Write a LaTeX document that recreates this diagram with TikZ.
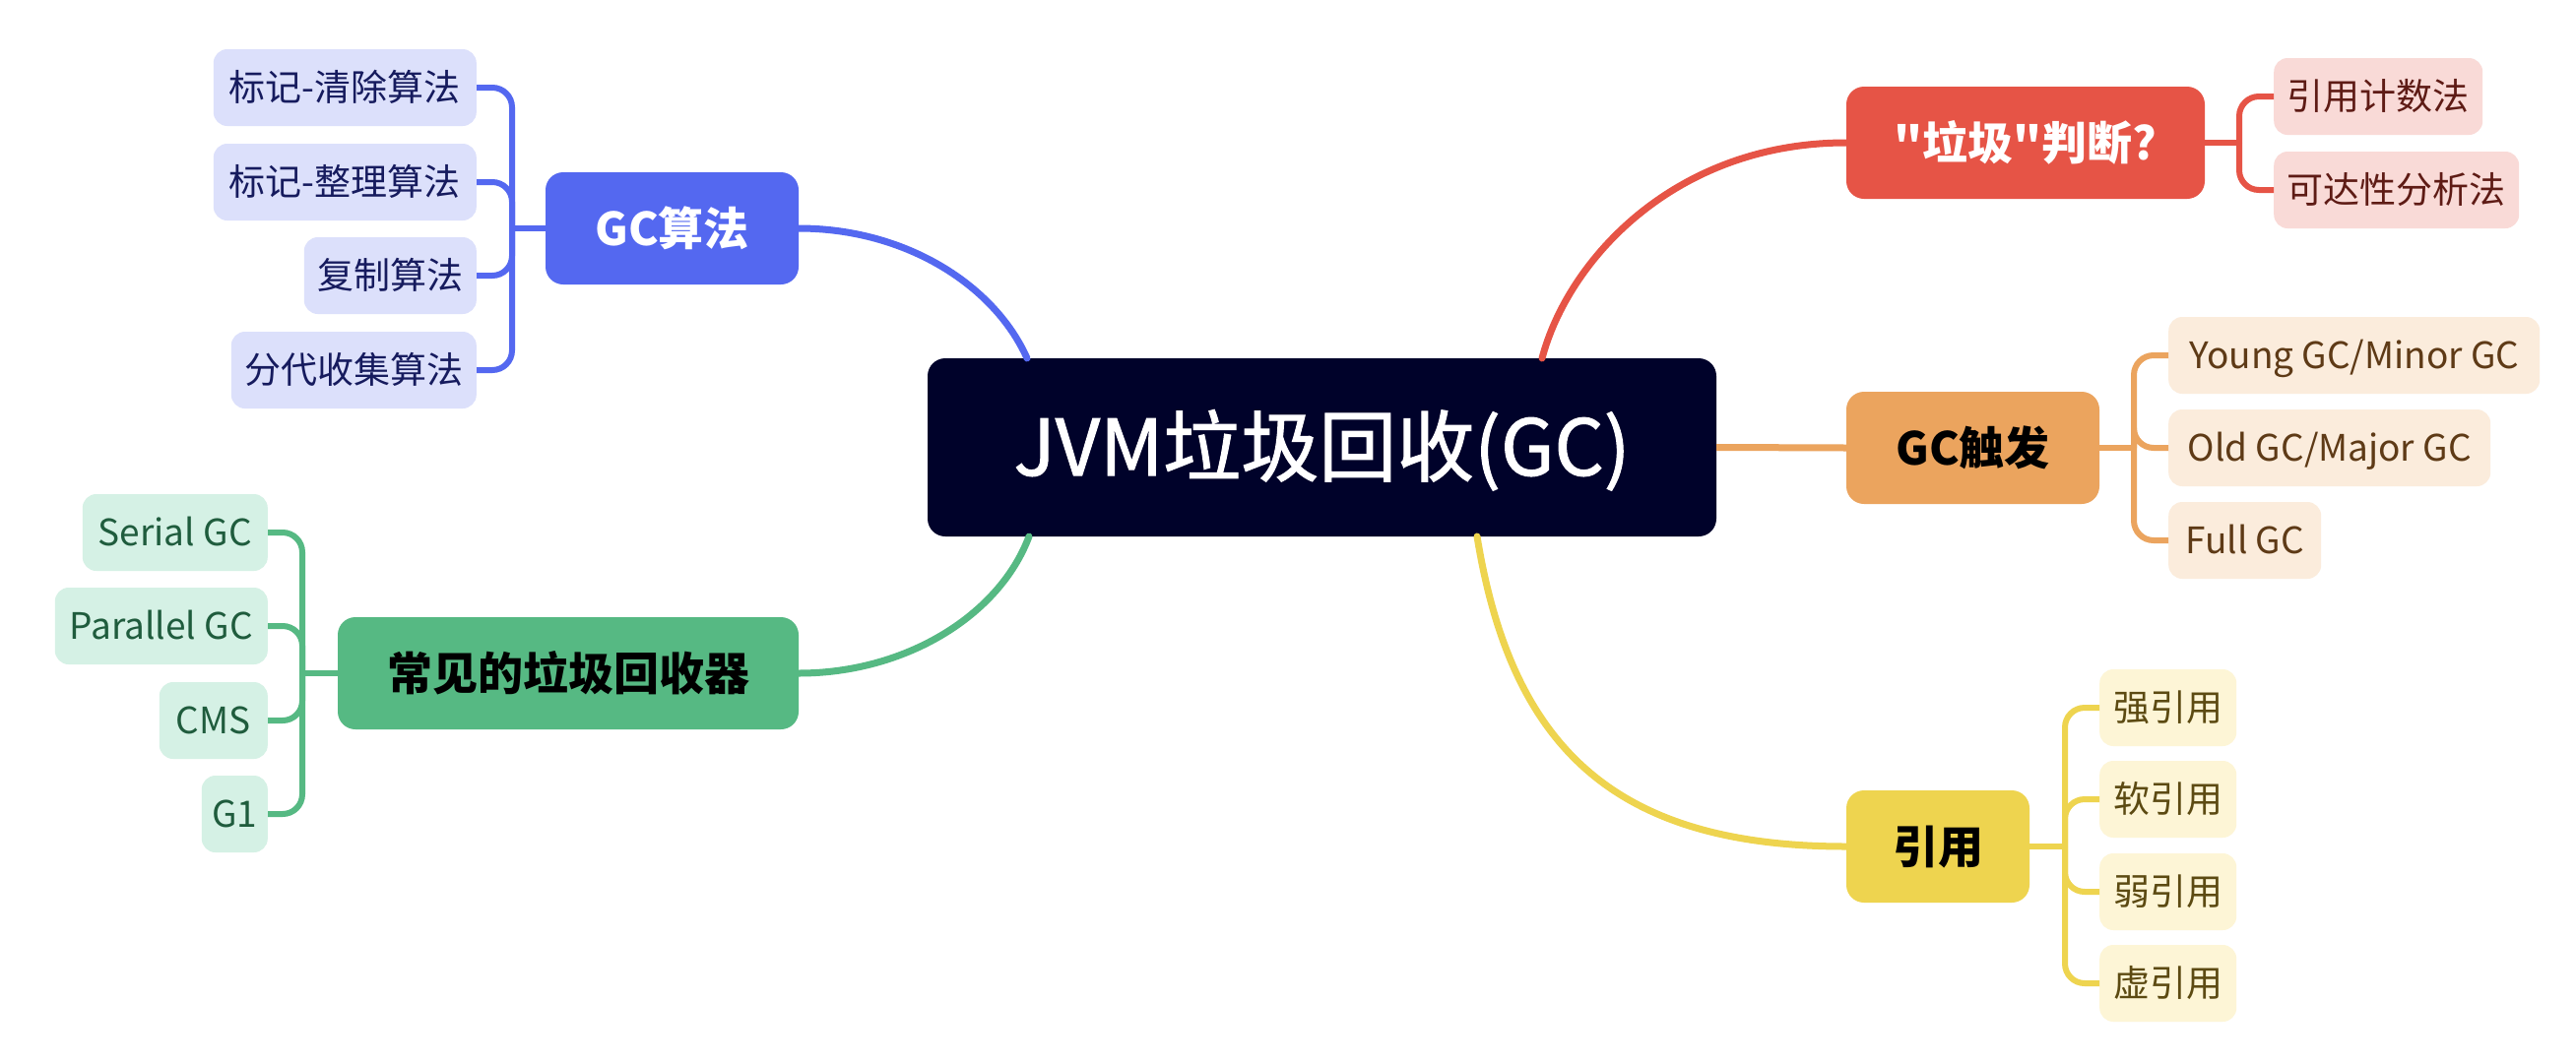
\documentclass[tikz,border=0pt]{standalone}
\usepackage{fontspec}
\setmainfont{Noto Sans CJK SC}[Ligatures=TeXOff]
\newfontfamily\rootfont{Noto Sans CJK SC}[Ligatures=TeXOff,FakeBold=1.3]
\definecolor{rootC}{HTML}{00022A}
\definecolor{blueM}{HTML}{5468F0}
\definecolor{blueL}{HTML}{DCE0FB}
\definecolor{blueT}{HTML}{161B5E}
\definecolor{greenM}{HTML}{56B983}
\definecolor{greenL}{HTML}{D5F1E5}
\definecolor{greenT}{HTML}{1F5C3D}
\definecolor{redM}{HTML}{E65446}
\definecolor{redL}{HTML}{F9DAD7}
\definecolor{redT}{HTML}{5E1B15}
\definecolor{orangeM}{HTML}{EBA45E}
\definecolor{orangeL}{HTML}{FBECDC}
\definecolor{orangeT}{HTML}{5E3A16}
\definecolor{yellowM}{HTML}{EED44F}
\definecolor{yellowL}{HTML}{FDF5D6}
\definecolor{yellowT}{HTML}{5C4A12}
\begin{document}
\begin{tikzpicture}[x=1pt,y=-1pt,
  rootbox/.style={fill=rootC,text=white,rounded corners=18pt,minimum width=801pt,minimum height=181pt,inner sep=0pt,
    font=\rootfont\fontsize{79}{84}\selectfont,text height=68pt,text depth=11pt},
  mainbox/.style={rounded corners=18pt,minimum height=114pt,inner sep=0pt,
    font=\fontsize{46}{50}\selectfont\bfseries,text height=40pt,text depth=6pt},
  leaf/.style={rounded corners=14pt,minimum height=78pt,inner sep=0pt,
    font=\fontsize{37}{40}\selectfont,text height=32.2pt,text depth=4.8pt},
  bl/.style={leaf,fill=blueL,text=blueT,anchor=east},
  gl/.style={leaf,fill=greenL,text=greenT,anchor=east},
  rl/.style={leaf,fill=redL,text=redT,anchor=west},
  ol/.style={leaf,fill=orangeL,text=orangeT,anchor=west},
  yl/.style={leaf,fill=yellowL,text=yellowT,anchor=west},
  brk/.style={line width=6pt,rounded corners=20pt,line cap=butt},
  trunk/.style={line width=7pt,line cap=round}
]
\useasboundingbox (0,0) rectangle (2616,1080);
\fill[white] (0,0) rectangle (2616,1080);

% root
\node[rootbox] (root) at (1342.5,454.5) {JVM垃圾回收(GC)};

% main branches
\node[mainbox,fill=blueM,text=white,minimum width=257pt] (gca) at (682.5,232) {GC算法};
\node[mainbox,fill=greenM,text=black,minimum width=468pt] (col) at (577,684) {常见的垃圾回收器};
\node[mainbox,fill=redM,text=white,minimum width=364pt] (judge) at (2057,145) {"垃圾"判断?};
\node[mainbox,fill=orangeM,text=black,minimum width=257pt] (trig) at (2003.5,455) {GC触发};
\node[mainbox,fill=yellowM,text=black,minimum width=186pt] (ref) at (1968,860) {引用};

% blue leaves
\node[bl,minimum width=267pt] (b1) at (484,89) {标记-清除算法};
\node[bl,minimum width=267pt] (b2) at (484,185) {标记-整理算法};
\node[bl,minimum width=175pt] (b3) at (484,280) {复制算法};
\node[bl,minimum width=249pt] (b4) at (484,376) {分代收集算法};

% green leaves
\node[gl,minimum width=188pt] (g1) at (272,541) {Serial GC};
\node[gl,minimum width=216pt] (g2) at (272,636) {Parallel GC};
\node[gl,minimum width=110pt] (g3) at (272,732) {CMS};
\node[gl,minimum width=67pt] (g4) at (272,827) {G1};

% red leaves
\node[rl,minimum width=212pt] (r1) at (2309,98) {引用计数法};
\node[rl,minimum width=249pt] (r2) at (2309,193) {可达性分析法};

% orange leaves
\node[ol,minimum width=377pt] (o1) at (2202,361) {Young GC/Minor GC};
\node[ol,minimum width=327pt] (o2) at (2202,455) {Old GC/Major GC};
\node[ol,minimum width=155pt] (o3) at (2202,549) {Full GC};

% yellow leaves
\node[yl,minimum width=139pt] (y1) at (2132,719) {强引用};
\node[yl,minimum width=139pt] (y2) at (2132,812) {软引用};
\node[yl,minimum width=139pt] (y3) at (2132,906) {弱引用};
\node[yl,minimum width=139pt] (y4) at (2132,999) {虚引用};

% coordinates
\coordinate (rb) at (1043,364);
\coordinate (rr) at (1566,364);
\coordinate (rg) at (1045,545);
\coordinate (ry) at (1500,545);
\coordinate (kb) at (520,232);
\coordinate (kg) at (307,684);
\coordinate (kr) at (2274,145);
\coordinate (ko) at (2167,455);
\coordinate (ky) at (2097,860);

% trunks from root
\draw[trunk,blueM] (rb) .. controls (1010,290) and (920,232) .. (gca.east);
\draw[trunk,redM] (rr) .. controls (1592,265) and (1700,145) .. (judge.west);
\draw[trunk,greenM] (rg) .. controls (1015,625) and (920,684) .. (col.east);
\draw[trunk,yellowM] (ry) .. controls (1535,760) and (1640,860) .. (ref.west);
\draw[trunk,orangeM,line cap=butt] (root.east) -- (trig.west);

% brackets
\begin{scope}[blueM]
\draw[brk] (gca.west) -- (kb);
\foreach \c in {b1,b2,b3,b4} \draw[brk] (kb) |- (\c.east);
\end{scope}
\begin{scope}[greenM]
\draw[brk] (col.west) -- (kg);
\foreach \c in {g1,g2,g3,g4} \draw[brk] (kg) |- (\c.east);
\end{scope}
\begin{scope}[redM]
\draw[brk] (judge.east) -- (kr);
\foreach \c in {r1,r2} \draw[brk] (kr) |- (\c.west);
\end{scope}
\begin{scope}[orangeM]
\draw[brk] (trig.east) -- (ko);
\foreach \c in {o1,o2,o3} \draw[brk] (ko) |- (\c.west);
\end{scope}
\begin{scope}[yellowM]
\draw[brk] (ref.east) -- (ky);
\foreach \c in {y1,y2,y3,y4} \draw[brk] (ky) |- (\c.west);
\end{scope}
\end{tikzpicture}
\end{document}
